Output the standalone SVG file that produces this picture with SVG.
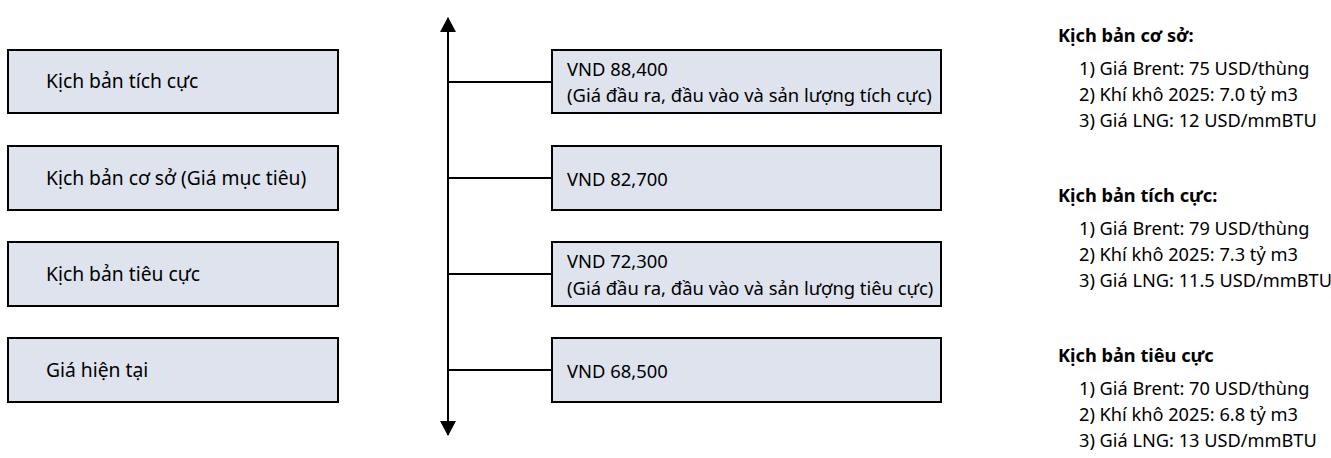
<svg xmlns="http://www.w3.org/2000/svg" width="1331" height="458" viewBox="0 0 1331 458">
<defs>
<style>
.box{fill:#dee3ed;stroke:#000;stroke-width:2}
.t{font-family:"Noto Sans","Liberation Sans",sans-serif;font-size:19.3px;fill:#000}
.m{font-size:18.4px}
.r{font-size:18.2px}
.b{font-weight:bold}
.ln{stroke:#000;stroke-width:2;fill:none}
</style>
<marker id="ah" viewBox="0 0 15 16" refX="14" refY="8" markerWidth="15" markerHeight="16" markerUnits="userSpaceOnUse" orient="auto-start-reverse">
<path d="M0,0 L15,8 L0,16 Z" fill="#000"/>
</marker>
</defs>
<rect width="1331" height="458" fill="#fff"/>
<g id="left1"><rect class="box" x="8" y="50" width="330" height="63"/><text class="t" x="46" y="88">Kịch bản tích cực</text></g>
<g id="left2"><rect class="box" x="8" y="146" width="330" height="64"/><text class="t" x="46" y="185">Kịch bản cơ sở (Giá mục tiêu)</text></g>
<g id="left3"><rect class="box" x="8" y="242" width="330" height="64"/><text class="t" x="46" y="281">Kịch bản tiêu cực</text></g>
<g id="left4"><rect class="box" x="8" y="338" width="330" height="64"/><text class="t" x="46" y="377">Giá hiện tại</text></g>
<g id="connectors">
<line class="ln" x1="448" y1="226" x2="448" y2="18" stroke-width="1.5" marker-end="url(#ah)"/>
<line class="ln" x1="448" y1="226" x2="448" y2="435" stroke-width="1.5" marker-end="url(#ah)"/>
<line class="ln" x1="448" y1="82" x2="552" y2="82"/>
<line class="ln" x1="448" y1="178" x2="552" y2="178"/>
<line class="ln" x1="448" y1="274" x2="552" y2="274"/>
<line class="ln" x1="448" y1="370" x2="552" y2="370"/>
</g>
<g id="mid1"><rect class="box" x="552" y="50" width="389" height="63"/><text class="t m" x="567" y="76">VND 88,400</text><text class="t m" x="567" y="102">(Giá đầu ra, đầu vào và sản lượng tích cực)</text></g>
<g id="mid2"><rect class="box" x="552" y="146" width="389" height="64"/><text class="t m" x="567" y="186">VND 82,700</text></g>
<g id="mid3"><rect class="box" x="552" y="242" width="389" height="64"/><text class="t m" x="567" y="268">VND 72,300</text><text class="t m" x="567" y="295">(Giá đầu ra, đầu vào và sản lượng tiêu cực)</text></g>
<g id="mid4"><rect class="box" x="552" y="338" width="389" height="64"/><text class="t m" x="567" y="378">VND 68,500</text></g>
<g id="notes">
<text class="t r b" x="1058" y="42">Kịch bản cơ sở:</text>
<text class="t r" x="1079" y="75">1) Giá Brent: 75 USD/thùng</text>
<text class="t r" x="1079" y="101">2) Khí khô 2025: 7.0 tỷ m3</text>
<text class="t r" x="1079" y="127">3) Giá LNG: 12 USD/mmBTU</text>
<text class="t r b" x="1058" y="202">Kịch bản tích cực:</text>
<text class="t r" x="1079" y="235">1) Giá Brent: 79 USD/thùng</text>
<text class="t r" x="1079" y="261">2) Khí khô 2025: 7.3 tỷ m3</text>
<text class="t r" x="1079" y="287">3) Giá LNG: 11.5 USD/mmBTU</text>
<text class="t r b" x="1058" y="362">Kịch bản tiêu cực</text>
<text class="t r" x="1079" y="395">1) Giá Brent: 70 USD/thùng</text>
<text class="t r" x="1079" y="421">2) Khí khô 2025: 6.8 tỷ m3</text>
<text class="t r" x="1079" y="447">3) Giá LNG: 13 USD/mmBTU</text>
</g>
</svg>
